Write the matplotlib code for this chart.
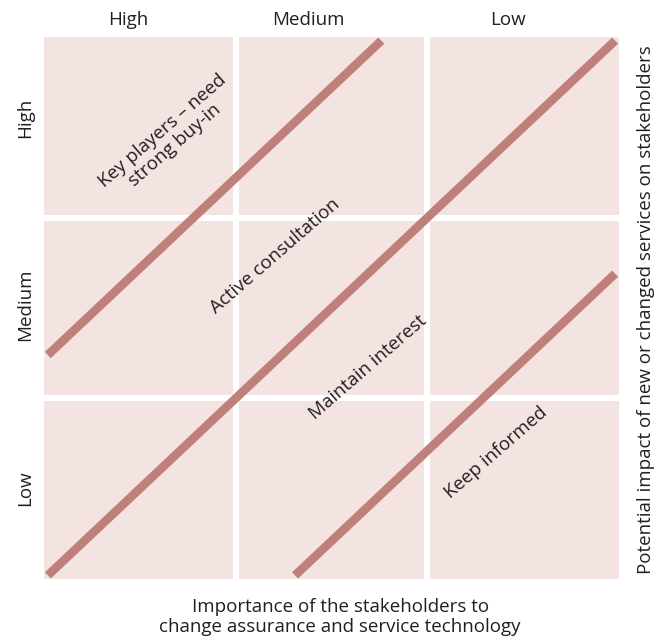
import matplotlib
matplotlib.use("Agg")
import matplotlib.pyplot as plt
from matplotlib.patches import Rectangle

# ---------------------------------------------------------------------------
# Data
# ---------------------------------------------------------------------------
COL_LABELS = ["High", "Medium", "Low"]          # importance (left -> right)
ROW_LABELS = ["Low", "Medium", "High"]          # impact (bottom -> top)
BOUNDARY_OFFSETS = [1.22, 0.0, -1.29]           # zone boundaries: y = x + c
ZONE_LABELS = [
    "Key players \u2013 need\nstrong buy-in",
    "Active consultation",
    "Maintain interest",
    "Keep informed",
]
ZONE_POS = [(0.65, 2.44), (1.205, 1.79), (1.69, 1.17), (2.36, 0.70)]

X_TITLE = "Importance of the stakeholders to\nchange assurance and service technology"
Y_TITLE = "Potential impact of new or changed services on stakeholders"

# layout (label positions in axes data units)
COL_X = [0.44, 1.38, 2.42]
ROW_Y = [0.50, 1.52, 2.55]

CELL_COLOR = "#f3e4e2"
LINE_COLOR = "#bf7f7a"
TEXT_COLOR = "#231f20"
FS = 13.5

plt.rcParams["font.family"] = ["Open Sans", "DejaVu Sans"]

fig = plt.figure(figsize=(6.65, 6.39), dpi=100)
ax = fig.add_axes([44 / 665, 60 / 639, 575 / 665, 542 / 639])
ax.set_xlim(0, 3)
ax.set_ylim(0, 3)
ax.axis("off")

# grid of cells with white gaps
gap = 0.016
for i in range(3):
    for j in range(3):
        x0 = i + (gap if i > 0 else 0)
        x1 = i + 1 - (gap if i < 2 else 0)
        y0 = j + (gap if j > 0 else 0)
        y1 = j + 1 - (gap if j < 2 else 0)
        ax.add_patch(Rectangle((x0, y0), x1 - x0, y1 - y0,
                               facecolor=CELL_COLOR, edgecolor="none", zorder=1))

# diagonal zone boundaries
lo, hi = 0.02, 2.98
for c in BOUNDARY_OFFSETS:
    xs = [max(lo, lo - c), min(hi, hi - c)]
    ys = [x + c for x in xs]
    ax.plot(xs, ys, color=LINE_COLOR, lw=6.2, solid_capstyle="butt", zorder=2)

# zone labels
for label, (x, y) in zip(ZONE_LABELS, ZONE_POS):
    ax.text(x, y, label, rotation=41, rotation_mode="anchor", ha="center",
            va="center", fontsize=FS, color=TEXT_COLOR, linespacing=1.0,
            zorder=3)

# column headers
for x, lab in zip(COL_X, COL_LABELS):
    ax.text(x, 3.0 + 0.095, lab, ha="center", va="center",
            fontsize=FS, color=TEXT_COLOR)

# row headers
for y, lab in zip(ROW_Y, ROW_LABELS):
    ax.text(-0.1, y, lab, rotation=90, ha="center", va="center",
            fontsize=FS, color=TEXT_COLOR)

# axis titles
ax.text(1.545, -0.21, X_TITLE, ha="center", va="center", fontsize=FS,
        color=TEXT_COLOR, linespacing=1.12)
ax.text(3.14, 1.49, Y_TITLE, rotation=90, ha="center", va="center",
        fontsize=FS, color=TEXT_COLOR)

fig.savefig("out.png", dpi=100)
